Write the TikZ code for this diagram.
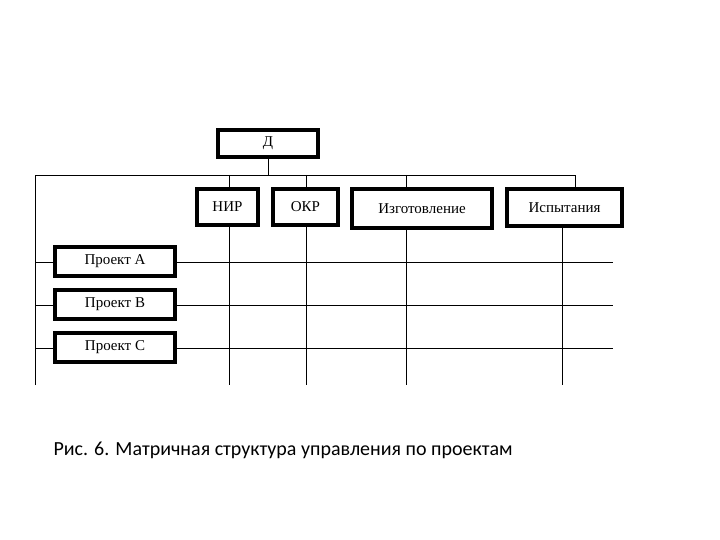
\documentclass[tikz,border=0pt]{standalone}
\usepackage{fontspec}
\setmainfont{Liberation Serif}
\newfontfamily\capfont{Carlito}
\begin{document}
\begin{tikzpicture}[x=1pt,y=-1pt,
 bx/.style={draw,line width=3.2pt,inner sep=0pt,fill=white,font=\fontsize{15}{17}\selectfont},
 ln/.style={line width=0.9pt}]
\useasboundingbox (0,0) rectangle (720,540);
\coordinate (tl) at (35,175);
\coordinate (bl) at (35,385);
\draw[ln] (268,157) -- (268,175);
\draw[ln] (bl) -- (tl) -- (575,175) -- (575,189);
\foreach \x in {229,306,406}{
  \draw[ln] (\x,175) -- (\x,385);}
\draw[ln] (562,226) -- (562,385);
\foreach \y in {262,305,348}{
  \draw[ln] (35,\y) -- (613,\y);}
\node[bx,minimum width=100,minimum height=27] (D) at (268,143.5) {Д};
\node[bx,minimum width=61,minimum height=36] (nir) at (227.5,207) {НИР};
\node[bx,minimum width=65,minimum height=36] (okr) at (305.5,207) {ОКР};
\node[bx,minimum width=140,minimum height=39] (izg) at (422,208.5) {Изготовление};
\node[bx,minimum width=115,minimum height=37] (isp) at (564.5,207.5) {Испытания};
\node[bx,minimum width=120,minimum height=29] (pa) at (115,261.5) {Проект А};
\node[bx,minimum width=120,minimum height=29] (pb) at (115,304.5) {Проект В};
\node[bx,minimum width=120,minimum height=29] (pc) at (115,347.5) {Проект С};
\node[anchor=west,font=\capfont\fontsize{20}{24}\selectfont] (cap) at (50,450) {Рис. 6. Матричная структура управления по проектам};
\end{tikzpicture}
\end{document}
